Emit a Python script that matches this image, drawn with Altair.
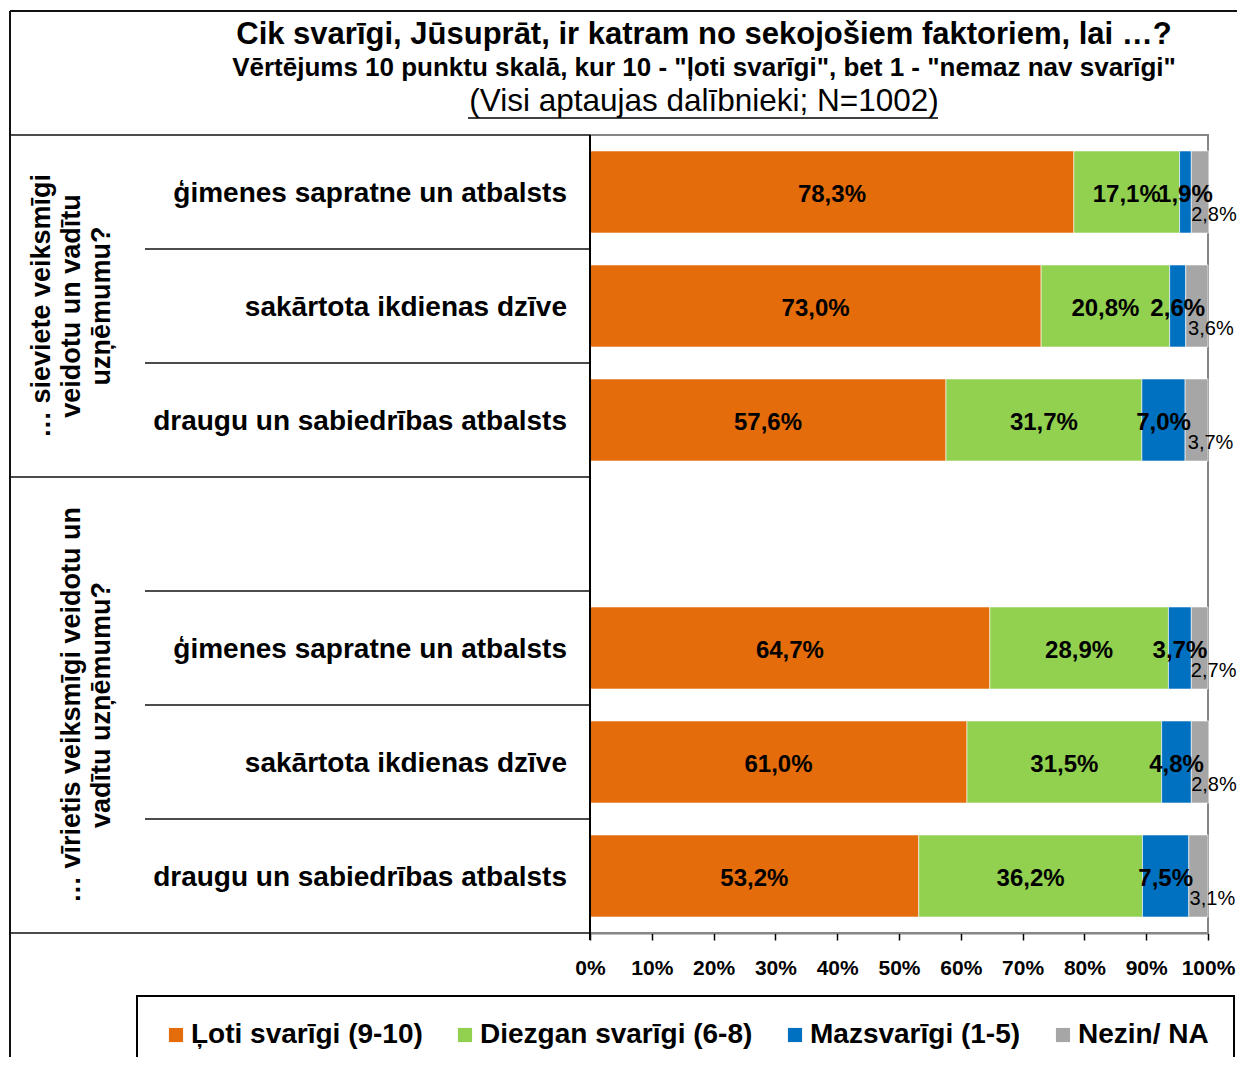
import altair as alt
import pandas as pd

FONT = "Liberation Sans"

# ---------------- data ----------------
series = ["Ļoti svarīgi (9-10)", "Diezgan svarīgi (6-8)", "Mazsvarīgi (1-5)", "Nezin/ NA"]
colors = ["#E46C0A", "#92D050", "#0070C0", "#A6A6A6"]

factors = ["ģimenes sapratne un atbalsts", "sakārtota ikdienas dzīve", "draugu un sabiedrības atbalsts"]

women_loti = [78.3, 73.0, 57.6]
women_diezgan = [17.1, 20.8, 31.7]
women_maz = [1.9, 2.6, 7.0]
women_nezin = [2.8, 3.6, 3.7]

men_loti = [64.7, 61.0, 53.2]
men_diezgan = [28.9, 31.5, 36.2]
men_maz = [3.7, 4.8, 7.5]
men_nezin = [2.7, 2.8, 3.1]

slots = ["W1", "W2", "W3", "gap", "M1", "M2", "M3"]
women_slots = ["W1", "W2", "W3"]
men_slots = ["M1", "M2", "M3"]

group_women = ["… sieviete veiksmīgi", "veidotu un vadītu", "uzņēmumu?"]
group_men = ["… vīrietis veiksmīgi veidotu un", "vadītu uzņēmumu?"]

title_1 = "Cik svarīgi, Jūsuprāt, ir katram no sekojošiem faktoriem, lai …?"
title_2 = "Vērtējums 10 punktu skalā, kur 10 - \"ļoti svarīgi\", bet 1 - \"nemaz nav svarīgi\""
title_3 = "(Visi aptaujas dalībnieki; N=1002)"

x_ticks = [0, 10, 20, 30, 40, 50, 60, 70, 80, 90, 100]


def fmt(v):
    return f"{v:.1f}".replace(".", ",") + "%"


rows = []
for slot_list, vals in [
    (women_slots, [women_loti, women_diezgan, women_maz, women_nezin]),
    (men_slots, [men_loti, men_diezgan, men_maz, men_nezin]),
]:
    for i, slot in enumerate(slot_list):
        start = 0.0
        for s, sv in enumerate(vals):
            v = sv[i]
            rows.append(dict(slot=slot, series=series[s], order=s, start=start,
                             end=start + v, mid=start + v / 2, label=fmt(v)))
            start += v
bars_df = pd.DataFrame(rows)

cat_df = pd.DataFrame({"slot": women_slots + men_slots, "factor": factors + factors})

# ---------------- layout constants (chart pixel space) ----------------
W, H = 1229, 1049
X0, X1 = 582, 1200          # 0% .. 100%
Y0, Y1 = 127, 925           # top / bottom of plot area
STEP = (Y1 - Y0) / 7

xscale = alt.Scale(domain=[0, 100], range=[X0, X1], nice=False, zero=False)
yscale = alt.Scale(domain=slots, range=[Y0, Y1], paddingInner=0.28, paddingOuter=0.14)
xaxis = alt.Axis(values=x_ticks, labelExpr="datum.value + '%'", title=None, grid=False,
                 offset=Y1 - H, domainColor="black", domainWidth=1.5, tickColor="black",
                 tickWidth=1.5, tickSize=7, labelFont=FONT, labelFontSize=21,
                 labelFontWeight="bold", labelColor="black", labelPadding=17,
                 labelFlush=False, labelOverlap=False)


def xenc(field):
    return alt.X(field, type="quantitative", scale=xscale, axis=xaxis)


def yenc():
    return alt.Y("slot:N", scale=yscale, axis=None)


dummy = pd.DataFrame({"d": [0]})
layers = []

# plot-area gray frame
layers.append(alt.Chart(dummy).mark_rect(fill="white", stroke="#868686", strokeWidth=2).encode(
    x=alt.value(X0), x2=alt.value(X1), y=alt.value(Y0), y2=alt.value(Y1)))

# bars
layers.append(alt.Chart(bars_df).mark_bar(stroke="white", strokeWidth=0.6).encode(
    x=xenc("start"), x2="end", y=yenc(),
    color=alt.Color("series:N", scale=alt.Scale(domain=series, range=colors),
                    legend=alt.Legend(orient="none", legendX=129, legendY=988,
                                      direction="horizontal", columns=4, title=None,
                                      symbolType="square", symbolSize=200,
                                      symbolStrokeWidth=0, symbolOpacity=1,
                                      labelFont=FONT, labelFontSize=28,
                                      labelFontWeight="bold", labelColor="black",
                                      labelLimit=0, columnPadding=28, labelOffset=1,
                                      padding=25, strokeColor="black",
                                      fillColor="white")),
    order=alt.Order("order:Q")))

# bold value labels (first three series)
layers.append(alt.Chart(bars_df).transform_filter("datum.order < 3").mark_text(
    font=FONT, fontSize=24, fontWeight="bold", color="black", baseline="middle", dy=3).encode(
    x=xenc("mid"), y=yenc(), text="label:N"))

# gray (Nezin/NA) labels
layers.append(alt.Chart(bars_df).transform_filter("datum.order == 3").mark_text(
    font=FONT, fontSize=20, color="black", baseline="middle", dx=14, dy=23).encode(
    x=xenc("mid"), y=yenc(), text="label:N"))

# category labels
layers.append(alt.Chart(cat_df).mark_text(
    font=FONT, fontSize=28, fontWeight="bold", color="black", align="right",
    baseline="middle", dy=2).encode(x=alt.value(559), y=yenc(), text="factor:N"))

# table lines
LINE = "#111111"
hlines = [(Y0, 2), (Y0 + STEP, 137), (Y0 + 2 * STEP, 137), (Y0 + 3 * STEP, 2),
          (Y0 + 4 * STEP, 137), (Y0 + 5 * STEP, 137), (Y0 + 6 * STEP, 137), (Y1, 2)]
for yy, xs in hlines:
    layers.append(alt.Chart(dummy).mark_rule(color=LINE, strokeWidth=1.6).encode(
        x=alt.value(xs), x2=alt.value(X0), y=alt.value(yy)))
# left axis line
layers.append(alt.Chart(dummy).mark_rule(color="black", strokeWidth=2).encode(
    x=alt.value(X0), y=alt.value(Y0), y2=alt.value(Y1 + 7)))
# outer frame
layers.append(alt.Chart(dummy).mark_rule(color=LINE, strokeWidth=2).encode(
    x=alt.value(2), y=alt.value(3), y2=alt.value(H)))
layers.append(alt.Chart(dummy).mark_rule(color=LINE, strokeWidth=2).encode(
    x=alt.value(2), x2=alt.value(W), y=alt.value(3)))

# group labels (rotated); anchor is the first line
layers.append(alt.Chart(dummy).mark_text(
    text=group_women, angle=270, font=FONT, fontSize=27, fontWeight="bold", color="black",
    align="center", baseline="middle", lineHeight=30).encode(
    x=alt.value(34), y=alt.value(298)))
layers.append(alt.Chart(dummy).mark_text(
    text=group_men, angle=270, font=FONT, fontSize=27, fontWeight="bold", color="black",
    align="center", baseline="middle", lineHeight=30).encode(
    x=alt.value(64), y=alt.value(697)))

# titles
TX = 696
layers.append(alt.Chart(dummy).mark_text(
    text=title_1, font=FONT, fontSize=31, fontWeight="bold", color="black",
    align="center", baseline="middle").encode(x=alt.value(TX), y=alt.value(27)))
layers.append(alt.Chart(dummy).mark_text(
    text=title_2, font=FONT, fontSize=26, fontWeight="bold", color="black",
    align="center", baseline="middle").encode(x=alt.value(TX), y=alt.value(60)))
layers.append(alt.Chart(dummy).mark_text(
    text=title_3, font=FONT, fontSize=31.5, color="black",
    align="center", baseline="middle").encode(x=alt.value(TX), y=alt.value(94)))
# underline of the third title line
layers.append(alt.Chart(dummy).mark_rule(color="black", strokeWidth=1.5).encode(
    x=alt.value(460), x2=alt.value(930), y=alt.value(110)))

chart = alt.layer(*layers).properties(
    width=W, height=H, padding=0,
    autosize=alt.AutoSizeParams(type="none"),
).configure_view(stroke=None).configure_legend(strokeWidth=2)

chart.save("out.html", embed_options={"renderer": "svg", "actions": False})
